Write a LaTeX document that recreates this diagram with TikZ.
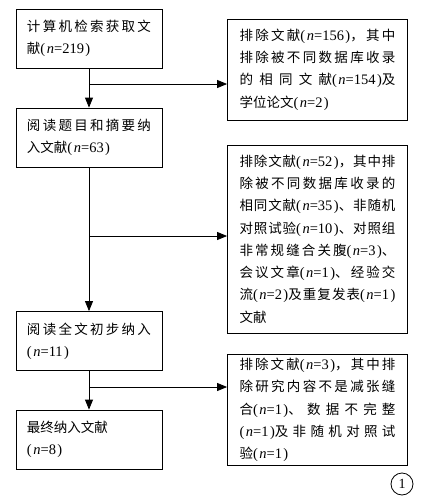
\documentclass[tikz,border=0pt]{standalone}
\usepackage{fontspec}
\setmainfont{Liberation Serif}
\newfontfamily\cjk{Noto Sans CJK SC}
\usepackage{tikz}
\usetikzlibrary{arrows.meta,positioning}
\XeTeXlinebreaklocale "zh"
\XeTeXlinebreakskip=0pt plus 4pt
\tolerance=9999
\newcommand\cnt[1]{{\rmfamily\fontsize{14.5}{22.3}\selectfont(\hspace{1.5pt}\textit{n}=#1\hspace{1.5pt})}}

\begin{document}
\begin{tikzpicture}[x=1pt,y=-1pt,
  stage/.style={rectangle, draw, line width=0.8pt, minimum width=146pt, minimum height=59pt, inner xsep=11pt, text width=124pt, align=justify, font=\cjk\fontsize{13.5}{22.3}\selectfont},
  excl/.style={rectangle, draw, line width=0.8pt, minimum width=180pt, inner xsep=12pt, text width=156pt, align=justify, font=\cjk\fontsize{13.5}{22.3}\selectfont},
  flow/.style={-{Triangle[length=10pt,width=8pt]}, line width=0.8pt}
]
  \useasboundingbox (0,0) rectangle (421,499);

  % main steps
  \node[stage] (s1) at (89,38.5) {计算机检索获取文\linebreak 献\cnt{219}};
  \node[stage] (s2) at (89,137.5) {阅读题目和摘要纳\linebreak 入文献\cnt{63}};
  \node[stage] (s3) at (89,341) {阅读全文初步纳入\linebreak\cnt{11}};
  \node[stage] (s4) at (89,439.5) {最终纳入文献\newline\cnt{8}};

  % excluded
  \node[excl, minimum height=101pt] (e1) at (317.5,69.5) {排除文献\cnt{156}，其中\linebreak 排除被不同数据库收录\linebreak 的相同文献\cnt{154}及\linebreak 学位论文\cnt{2}};
  \node[excl, minimum height=188pt] (e2) at (317.5,239) {排除文献\cnt{52}，其中排\linebreak 除被不同数据库收录的\linebreak 相同文献\cnt{35}、非随机\linebreak 对照试验\cnt{10}、对照组\linebreak 非常规缝合关腹\cnt{3}、\linebreak 会议文章\cnt{1}、经验交\linebreak 流\cnt{2}及重复发表\cnt{1}\linebreak 文献};
  \node[excl, minimum height=106pt] (e3) at (317.5,410) {排除文献\cnt{3}，其中排\linebreak 除研究内容不是减张缝\linebreak 合\cnt{1}、数据不完整\linebreak\cnt{1}及非随机对照试\linebreak 验\cnt{1}};

  \coordinate (j1) at (89,84);
  \coordinate (j2) at (89,236);
  \coordinate (j3) at (89,387);

  \draw[flow] (s1) -- (s2);
  \draw[flow] (s2) -- (s3);
  \draw[flow] (s3) -- (s4);
  \draw[flow] (j1) -- (j1 -| e1.west);
  \draw[flow] (j2) -- (j2 -| e2.west);
  \draw[flow] (j3) -- (j3 -| e3.west);

  \node[circle, draw, line width=0.8pt, minimum size=22pt, inner sep=0pt, font=\fontsize{14}{14}\selectfont] (fig) at (402,484) {1};
\end{tikzpicture}
\end{document}
